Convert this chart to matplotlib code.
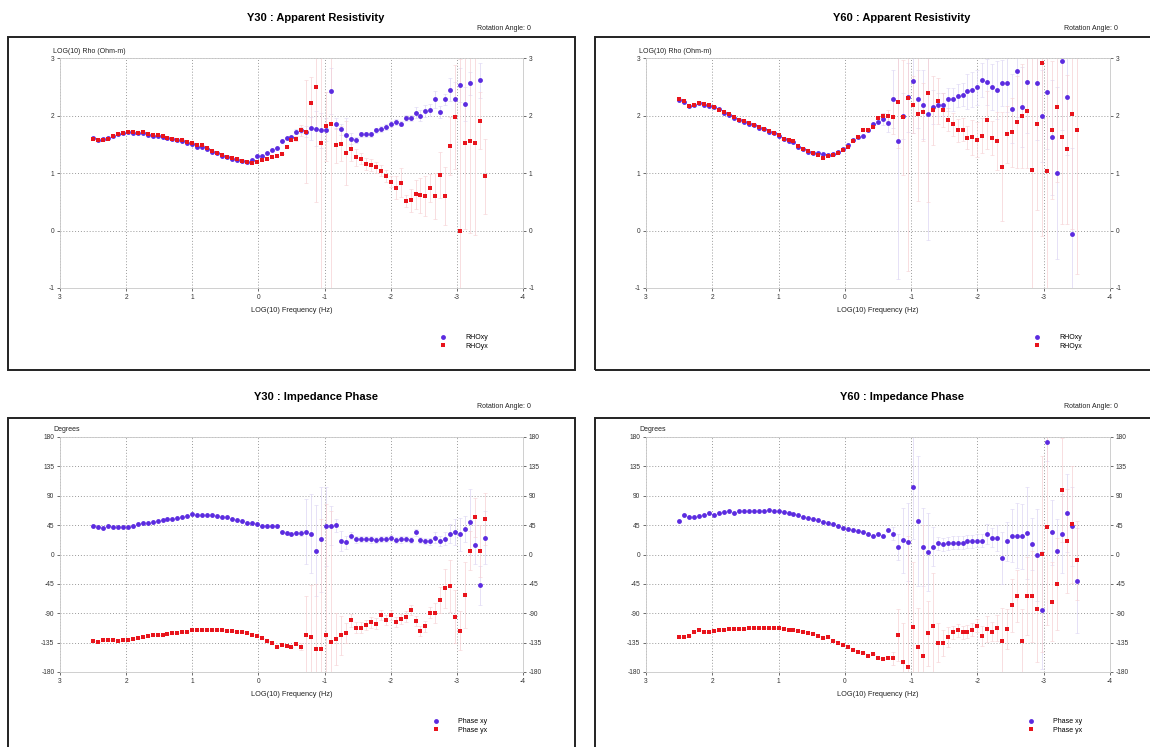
import numpy as np
import matplotlib
matplotlib.use("Agg")
import matplotlib.pyplot as plt
from matplotlib.patches import Rectangle

plt.rcParams['font.family'] = ['Liberation Sans', 'DejaVu Sans']
plt.rcParams['axes.unicode_minus'] = False

nan = np.nan

# log10 frequency of each sounding (Hz)
logf30 = [2.5, 2.425, 2.35, 2.275, 2.2, 2.125, 2.05, 1.975, 1.9, 1.825,
          1.75, 1.675, 1.6, 1.525, 1.45, 1.375, 1.3, 1.225, 1.15, 1.075,
          1.0, 0.925, 0.85, 0.775, 0.7, 0.625, 0.55, 0.475, 0.4, 0.325,
          0.25, 0.175, 0.1, 0.025, -0.05, -0.125, -0.2, -0.275, -0.35, -0.425,
          -0.5, -0.575, -0.65, -0.725, -0.8, -0.875, -0.95, -1.025, -1.1, -1.175,
          -1.25, -1.325, -1.4, -1.475, -1.55, -1.625, -1.7, -1.775, -1.85, -1.925,
          -2.0, -2.075, -2.15, -2.225, -2.3, -2.375, -2.45, -2.525, -2.6, -2.675,
          -2.75, -2.825, -2.9, -2.975, -3.05, -3.125, -3.2, -3.275, -3.35, -3.425]
logf60 = logf30 + [-3.5]

# ---- Y30 apparent resistivity, log10 ohm-m
rho30_xy = [1.61, 1.58, 1.59, 1.61, 1.65, 1.68, 1.70, 1.72, 1.70, 1.69,
            1.70, 1.66, 1.65, 1.64, 1.63, 1.61, 1.59, 1.57, 1.55, 1.52,
            1.50, 1.46, 1.45, 1.42, 1.37, 1.34, 1.30, 1.27, 1.25, 1.23,
            1.21, 1.19, 1.22, 1.29, 1.30, 1.34, 1.40, 1.43, 1.56, 1.61,
            1.62, 1.72, 1.75, 1.72, 1.78, 1.77, 1.74, 1.75, 2.42, 1.86,
            1.76, 1.66, 1.60, 1.58, 1.67, 1.67, 1.67, 1.74, 1.77, 1.80,
            1.85, 1.89, 1.86, 1.96, 1.96, 2.05, 2.00, 2.08, 2.10, 2.28,
            2.06, 2.28, 2.45, 2.28, 2.53, 2.20, 2.56, nan, 2.61, nan]
rho30_yx = [1.60, 1.57, 1.58, 1.60, 1.64, 1.67, 1.70, 1.71, 1.71, 1.70,
            1.72, 1.67, 1.66, 1.66, 1.64, 1.61, 1.60, 1.58, 1.57, 1.54,
            1.52, 1.49, 1.49, 1.43, 1.38, 1.35, 1.31, 1.28, 1.26, 1.24,
            1.21, 1.19, 1.18, 1.20, 1.22, 1.25, 1.27, 1.29, 1.33, 1.45,
            1.58, 1.60, 1.74, 1.72, 2.22, 2.50, 1.52, 1.81, 1.86, 1.48,
            1.51, 1.35, 1.41, 1.27, 1.25, 1.16, 1.14, 1.10, 1.04, 0.95,
            0.85, 0.74, 0.83, 0.51, 0.53, 0.63, 0.61, 0.60, 0.74, 0.60,
            0.97, 0.60, 1.47, 1.97, -0.01, 1.53, 1.55, 1.52, 1.91, 0.94]
rho30_xy_err = [0] * 41 + [0.05, 0.05, 0.1, 0.2, 0.3, 0.3, 0.2, 0.4, 0.1,
                           0.1, 0.3, 0.1, 0.05, 0.05, 0.05, 0.05, 0.05, 0.05, 0.05,
                           0.05, 0.05, 0.05, 0.05, 0.05, 0.1, 0.1, 0.1, 0.1, 0.15,
                           0.1, 0.1, 0.2, 0.3, 0.3, 0.3, 0.2, 0, 0.3, 0]
rho30_yx_err = [0] * 41 + [0.05, 0.1, 0.9, 0.45, 2.0, 3.0, 0.6, 3.0, 0.3,
                           0.3, 0.55, 0.2, 0.15, 0.1, 0.1, 0.1, 0.1, 0.1, 0.1,
                           0.1, 0.2, 0.25, 0.1, 0.2, 0.25, 0.3, 0.35, 0.25, 0.4,
                           0.4, 0.5, 0.5, 0.9, 3.0, 1.5, 1.6, 1.6, 0.5, 0.65]

# ---- Y60 apparent resistivity, log10 ohm-m
rho60_xy = [2.27, 2.24, 2.17, 2.18, 2.21, 2.19, 2.17, 2.14, 2.11, 2.05,
            2.01, 1.96, 1.93, 1.89, 1.86, 1.83, 1.79, 1.76, 1.72, 1.69,
            1.65, 1.59, 1.56, 1.54, 1.46, 1.41, 1.37, 1.34, 1.34, 1.33,
            1.32, 1.33, 1.36, 1.42, 1.49, 1.57, 1.62, 1.65, 1.74, 1.86,
            1.88, 1.94, 1.87, 2.29, 1.55, 2.00, 2.32, 2.60, 2.29, 2.19,
            2.03, 2.15, 2.19, 2.19, 2.28, 2.28, 2.34, 2.36, 2.42, 2.45,
            2.49, 2.62, 2.59, 2.49, 2.44, 2.57, 2.56, 2.12, 2.78, 2.15,
            2.59, nan, 2.57, 2.00, 2.41, 1.62, 1.00, 2.95, 2.32, -0.06, nan]
rho60_yx = [2.28, 2.25, 2.16, 2.19, 2.22, 2.20, 2.18, 2.15, 2.10, 2.06,
            2.02, 1.97, 1.93, 1.90, 1.87, 1.84, 1.80, 1.77, 1.73, 1.70,
            1.66, 1.60, 1.57, 1.55, 1.47, 1.42, 1.38, 1.35, 1.31, 1.26,
            1.30, 1.31, 1.35, 1.40, 1.45, 1.55, 1.62, 1.74, 1.75, 1.80,
            1.96, 2.00, 2.00, 1.97, 2.23, 1.97, 2.30, 2.19, 2.02, 2.06,
            2.40, 2.09, 2.26, 2.10, 1.93, 1.85, 1.74, 1.75, 1.61, 1.62,
            1.58, 1.65, 1.92, 1.61, 1.56, 1.11, 1.67, 1.71, 1.88, 1.99,
            2.08, 1.06, 1.86, 2.91, 1.03, 1.75, 2.14, 1.62, 1.41, 2.02, 1.74]
rho60_xy_err = [0] * 41 + [0.1, 0.15, 0.5, 2.4, 0.4, 0.6, 0.9, 0.5, 0.6,
                           2.2, 0.3, 0.2, 0.2, 0.2, 0.2, 0.2, 0.2, 0.3, 0.3,
                           0.3, 0.3, 0.4, 0.4, 0.5, 0.4, 0.5, 0.6, 0.8, 0.7,
                           0.9, 0, 1.0, 0.8, 1.0, 1.0, 1.5, 1.2, 1.0, 1.5, 0]
rho60_yx_err = [0] * 41 + [0.05, 0.1, 0.3, 0.8, 1.0, 3.0, 0.5, 1.5, 0.5,
                           1.9, 0.6, 0.4, 0.3, 0.2, 0.2, 0.2, 0.2, 0.2, 0.3,
                           0.3, 0.3, 0.5, 0.3, 0.5, 0.95, 0.5, 0.6, 0.8, 0.9,
                           1.0, 2.5, 1.5, 3.0, 2.5, 1.2, 1.3, 1.5, 1.3, 2.0, 2.5]

# ---- Y30 impedance phase, degrees
ph30_xy = [43, 42, 40, 43, 42, 42, 42, 42, 44, 46,
           48, 49, 50, 52, 53, 54, 55, 56, 57, 59,
           62, 61, 61, 60, 60, 59, 58, 57, 55, 53,
           51, 49, 48, 46, 44, 43, 43, 44, 34, 33,
           32, 33, 33, 35, 32, 6, 23, 43, 44, 45,
           21, 19, 29, 23, 24, 24, 23, 22, 24, 24,
           25, 22, 23, 24, 22, 34, 22, 21, 20, 26,
           21, 24, 32, 35, 31, 39, 50, 15, -47, 26]
ph30_yx = [-133, -134, -131, -131, -131, -132, -131, -131, -129, -128,
           -126, -125, -124, -123, -123, -122, -121, -120, -119, -118,
           -116, -115, -115, -116, -116, -116, -116, -117, -117, -118,
           -119, -121, -123, -125, -128, -132, -136, -142, -139, -140,
           -141, -137, -141, -123, -127, -145, -145, -123, -134, -130,
           -124, -120, -101, -112, -112, -108, -104, -106, -93, -100,
           -93, -103, -99, -95, -85, -102, -117, -110, -89, -90,
           -70, -52, -48, -95, -117, -62, 6, 57, 5, 54]
ph30_xy_err = [0] * 42 + [5, 50, 60, 70, 80, 60, 30, 10, 15, 10,
                          5, 5, 5, 5, 5, 5, 5, 5, 5, 5, 5, 5, 5, 5,
                          5, 5, 5, 8, 8, 10, 15, 20, 25, 20, 50, 30, 30, 40]
ph30_yx_err = [0] * 42 + [5, 60, 80, 100, 200, 200, 200, 40, 30, 15,
                          10, 8, 8, 8, 8, 8, 8, 8, 8, 8, 8, 8, 8, 8,
                          8, 8, 8, 15, 20, 30, 40, 40, 30, 50, 30, 30, 40, 40]

# ---- Y60 impedance phase, degrees
ph60_xy = [52, 60, 58, 58, 59, 61, 63, 60, 63, 65,
           66, 64, 67, 67, 67, 67, 67, 67, 68, 67,
           66, 65, 64, 62, 60, 58, 56, 55, 53, 50,
           48, 47, 44, 41, 39, 38, 36, 35, 32, 28,
           32, 29, 37, 32, 11, 22, 19, 103, 51, 11,
           4, 12, 17, 16, 17, 18, 18, 18, 20, 20,
           21, 21, 31, 26, 25, -5, 20, 29, 29, 28,
           33, 16, -1, -85, 173, 34, 5, 32, 64, 43, -40]
ph60_yx = [-126, -126, -125, -119, -116, -118, -119, -117, -116, -115,
           -114, -114, -114, -114, -113, -113, -113, -112, -112, -112,
           -113, -114, -115, -116, -117, -118, -120, -122, -125, -128,
           -127, -133, -136, -139, -142, -146, -150, -151, -155, -152,
           -158, -160, -158, -159, -123, -165, -172, -111, -142, -155,
           -121, -109, -135, -136, -126, -119, -116, -119, -118, -115,
           -109, -125, -114, -118, -113, -132, -114, -78, -64, -133,
           -64, -64, -84, 1, 42, -72, -45, 99, 21, 46, -9]
ph60_xy_err = [0] * 43 + [10, 20, 50, 60, 80, 100, 60, 60, 30, 10,
                          10, 10, 10, 10, 10, 10, 10, 10, 10, 15, 15, 20, 40,
                          30, 40, 50, 50, 70, 40, 70, 90, 30, 50, 50, 60, 60, 60, 80]
ph60_yx_err = [0] * 43 + [10, 40, 60, 200, 100, 60, 200, 50, 80, 30,
                          20, 15, 10, 10, 10, 10, 10, 10, 15, 20, 15, 20,
                          50, 30, 40, 40, 50, 60, 70, 80, 150, 150, 60, 70, 80, 80, 90, 60]

BLUE = '#5b2be0'
RED = '#e8141c'
BLUE_ERR = '#dcd5f3'
RED_ERR = '#f6d0d3'

W, H = 1150, 747
fig = plt.figure(figsize=(W / 100, H / 100), dpi=100)


def rect(x0, y0, x1, y1):
    # pixel box -> figure fraction
    return [x0 / W, 1 - y1 / H, (x1 - x0) / W, (y1 - y0) / H]


def panel(box, frame, logf, a, a_err, b, b_err, kind, station, leg_x):
    fx0, fy0, fx1, fy1 = frame
    fig.patches.append(Rectangle((fx0 / W, 1 - fy1 / H), (fx1 - fx0) / W, (fy1 - fy0) / H,
                                 transform=fig.transFigure, fill=False,
                                 edgecolor='#222222', linewidth=1.4))
    ax = fig.add_axes(rect(*box))
    x = np.array(logf)
    ax.errorbar(x, a, yerr=a_err, fmt='none', ecolor=BLUE_ERR, elinewidth=0.5,
                capsize=1.2, capthick=0.4, zorder=2)
    ax.errorbar(x, b, yerr=b_err, fmt='none', ecolor=RED_ERR, elinewidth=0.5,
                capsize=1.2, capthick=0.4, zorder=2)
    if kind == 'rho':
        la, lb = 'RHOxy', 'RHOyx'
    else:
        la, lb = 'Phase xy', 'Phase yx'
    ax.plot(x, a, 'o', color=BLUE, markersize=3.5, markeredgewidth=0, label=la, zorder=3)
    ax.plot(x, b, 's', color=RED, markersize=3.3, markeredgewidth=0, label=lb, zorder=3)

    ax.set_xlim(3, -4)
    ax.set_xticks([3, 2, 1, 0, -1, -2, -3, -4])
    if kind == 'rho':
        ax.set_ylim(-1, 3)
        ax.set_yticks([-1, 0, 1, 2, 3])
        ylab = 'LOG(10) Rho (Ohm-m)'
        title = station + ' : Apparent Resistivity'
    else:
        ax.set_ylim(-180, 180)
        ax.set_yticks(np.arange(-180, 181, 45))
        ylab = 'Degrees'
        title = station + ' : Impedance Phase'
    ax.grid(True, linestyle=(0, (1, 2)), color='#9a9a9a', linewidth=0.7)
    ax.tick_params(labelsize=4.8, length=2, width=0.5, colors='#333333',
                   labelright=True, right=True, pad=2)
    for s in ax.spines.values():
        s.set_color('#c8c8c8')
        s.set_linewidth(0.6)
    ax.set_xlabel('LOG(10) Frequency (Hz)', fontsize=5.3, labelpad=5, color='#222222')
    ax.text(-0.015, 1.015, ylab, transform=ax.transAxes, fontsize=5,
            ha='left', va='bottom', color='#222222')

    bx0, by0, bx1, by1 = box
    fig.text((bx0 + bx1) / 2 / W + 24 / W, 1 - (by0 - 40) / H, title,
             fontsize=8, fontweight='bold', ha='center', va='center')
    fig.text((bx1 + 8) / W, 1 - (by0 - 30) / H, 'Rotation Angle: 0',
             fontsize=5, ha='right', va='center', color='#222222')
    ax.legend(loc='upper left', bbox_to_anchor=(leg_x / W, 1 - (by1 + 46) / H),
              bbox_transform=fig.transFigure, frameon=False, fontsize=5,
              handletextpad=2.6, labelspacing=0.25, handlelength=1.0,
              borderaxespad=0, borderpad=0)
    return ax


panel((60, 58, 523, 288), (8, 37, 575, 370), logf30,
      rho30_xy, rho30_xy_err, rho30_yx, rho30_yx_err, 'rho', 'Y30', 440)
panel((646, 58, 1110, 288), (595, 37, 1156, 370), logf60,
      rho60_xy, rho60_xy_err, rho60_yx, rho60_yx_err, 'rho', 'Y60', 1034)
panel((60, 437, 523, 672), (8, 418, 575, 760), logf30,
      ph30_xy, ph30_xy_err, ph30_yx, ph30_yx_err, 'phase', 'Y30', 433)
panel((646, 437, 1110, 672), (595, 418, 1156, 760), logf60,
      ph60_xy, ph60_xy_err, ph60_yx, ph60_yx_err, 'phase', 'Y60', 1028)

fig.savefig('out.png', dpi=100)
